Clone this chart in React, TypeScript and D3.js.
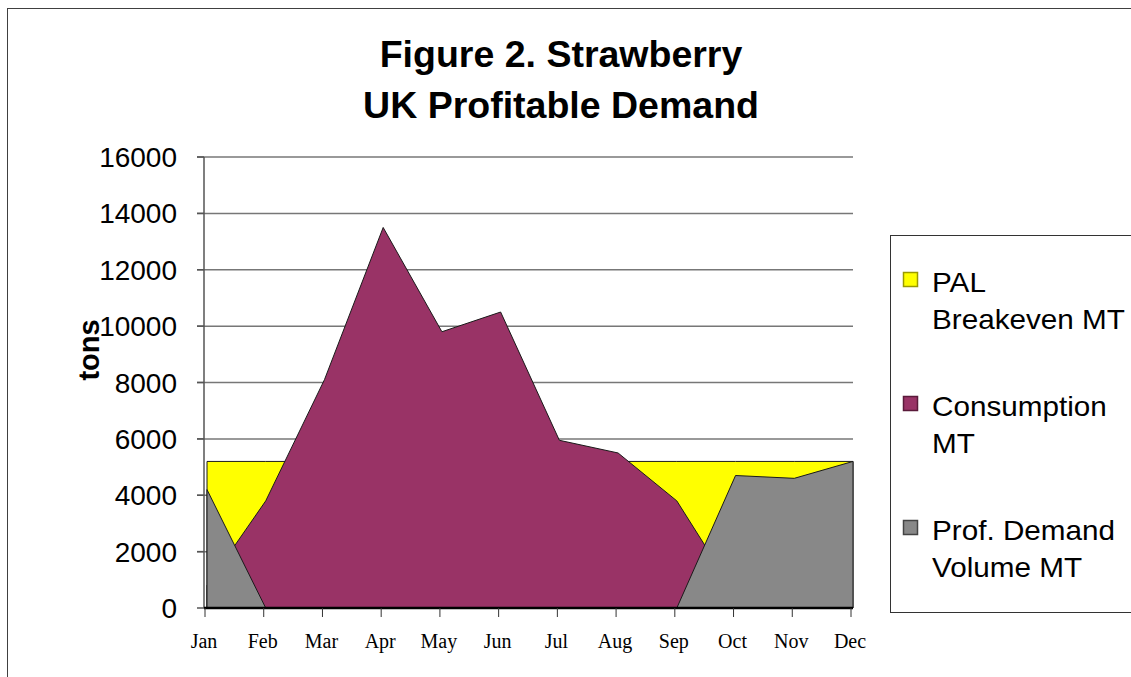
import React from "react";
import * as d3 from "d3";

const months = ["Jan", "Feb", "Mar", "Apr", "May", "Jun", "Jul", "Aug", "Sep", "Oct", "Nov", "Dec"];
const breakeven = [5200, 5200, 5200, 5200, 5200, 5200, 5200, 5200, 5200, 5200, 5200, 5200];
const consumption = [800, 3800, 8100, 13500, 9800, 10500, 5950, 5500, 3800, 500, 0, 0];
const profDemand = [4200, 0, 0, 0, 0, 0, 0, 0, 0, 4700, 4600, 5200];
const yTicks = [0, 2000, 4000, 6000, 8000, 10000, 12000, 14000, 16000];
const titleLines = ["Figure 2. Strawberry", "UK Profitable Demand"];
const legendItems = [
  { lines: ["PAL", "Breakeven MT"], color: "#FFFF00", stroke: "#9a9a00" },
  { lines: ["Consumption", "MT"], color: "#993366", stroke: "#5a1a3a" },
  { lines: ["Prof. Demand", "Volume MT"], color: "#888888", stroke: "#444444" },
];
const series = [
  { values: breakeven, color: "#FFFF00" },
  { values: consumption, color: "#993366" },
  { values: profDemand, color: "#888888" },
];

const W = 1131;
const H = 677;
const plotLeft = 207;
const plotRight = 853;
const plotTop = 157;
const plotBottom = 608;
const axisX = 204;

export default function App() {
  const x = d3.scalePoint<string>().domain(months).range([plotLeft, plotRight]);
  const y = d3.scaleLinear().domain([0, 16000]).range([plotBottom, plotTop]);
  const area = d3
    .area<number>()
    .x((_, i) => x(months[i]) as number)
    .y0(y(0))
    .y1((d) => y(d));

  const sans = "Arial, 'Liberation Sans', sans-serif";
  const serif = "'Times New Roman', 'Liberation Serif', serif";

  return (
    <svg
      width={W}
      height={H}
      style={{ position: "absolute", left: 0, top: 0, background: "#fff" }}
    >
      <rect x={0} y={0} width={W} height={H} fill="#fff" />
      <rect x={7.5} y={8.5} width={W + 20} height={H + 20} fill="none" stroke="#404040" strokeWidth={1} />

      {titleLines.map((t, i) => (
        <text
          key={t}
          x={561}
          y={67 + i * 51}
          textAnchor="middle"
          fontFamily={sans}
          fontWeight="bold"
          fontSize={37.5}
          fill="#000"
        >
          {t}
        </text>
      ))}

      {yTicks.map((t) => (
        <line
          key={"g" + t}
          x1={axisX - 7}
          x2={plotRight}
          y1={y(t)}
          y2={y(t)}
          stroke={t === 0 ? "none" : "#777"}
          strokeWidth={1.5}
        />
      ))}

      {series.map((s, i) => (
        <path
          key={"a" + i}
          d={area(s.values) || ""}
          fill={s.color}
          stroke="#1a1a1a"
          strokeWidth={1}
          strokeLinejoin="miter"
        />
      ))}

      <line x1={axisX} x2={axisX} y1={plotTop} y2={plotBottom} stroke="#555" strokeWidth={1.5} />
      {yTicks.map((t) => (
        <g key={"yt" + t}>
          <line x1={axisX - 7} x2={axisX} y1={y(t)} y2={y(t)} stroke="#555" strokeWidth={1.5} />
          <text
            x={177}
            y={y(t) + 10}
            textAnchor="end"
            fontFamily={sans}
            fontSize={28}
            fill="#000"
          >
            {t}
          </text>
        </g>
      ))}

      <line x1={axisX} x2={plotRight} y1={plotBottom} y2={plotBottom} stroke="#000" strokeWidth={2.5} />
      {months.map((m) => (
        <g key={"xt" + m}>
          <line
            x1={(x(m) as number) - 2}
            x2={(x(m) as number) - 2}
            y1={plotBottom}
            y2={plotBottom + 9}
            stroke="#333"
            strokeWidth={1}
          />
          <text
            x={(x(m) as number) - 3}
            y={648}
            textAnchor="middle"
            fontFamily={serif}
            fontSize={20}
            fill="#000"
          >
            {m}
          </text>
        </g>
      ))}

      <text
        transform="translate(99,350) rotate(-90)"
        textAnchor="middle"
        fontFamily={sans}
        fontWeight="bold"
        fontSize={29}
        fill="#000"
      >
        tons
      </text>

      <rect x={890.5} y={235.5} width={W + 10 - 890} height={612 - 235} fill="#fff" stroke="#333" strokeWidth={1} />
      {legendItems.map((it, i) => {
        const base = 292 + i * 124;
        return (
          <g key={"l" + i}>
            <rect
              x={903.5}
              y={base - 19.5}
              width={14}
              height={14}
              fill={it.color}
              stroke={it.stroke}
              strokeWidth={1.5}
            />
            {it.lines.map((ln, j) => (
              <text
                key={ln}
                transform={`translate(932,${base + j * 37}) scale(1.06,1)`}
                fontFamily={sans}
                fontSize={28}
                fill="#000"
              >
                {ln}
              </text>
            ))}
          </g>
        );
      })}
    </svg>
  );
}
